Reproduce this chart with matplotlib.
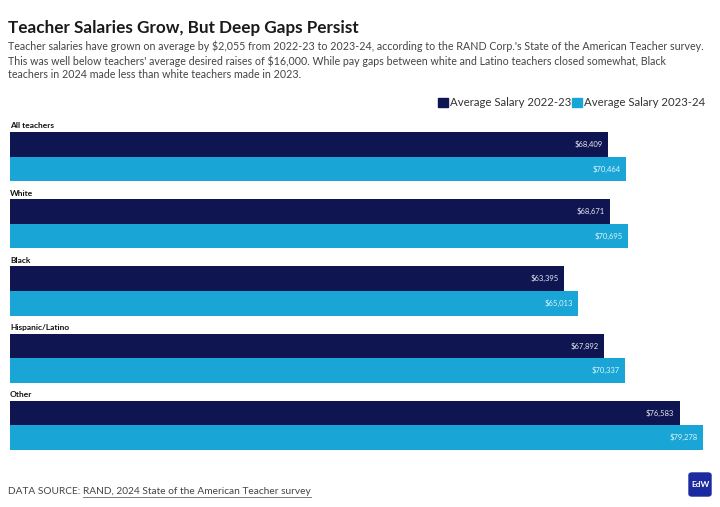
import matplotlib
matplotlib.use("Agg")
import matplotlib.pyplot as plt
from matplotlib.patches import FancyBboxPatch

plt.rcParams['font.family'] = ['Lato', 'DejaVu Sans']

groups = ["All teachers", "White", "Black", "Hispanic/Latino", "Other"]
sal_2223 = [68409, 68671, 63395, 67892, 76583]
sal_2324 = [70464, 70695, 65013, 70337, 79278]
series_names = ["Average Salary 2022-23", "Average Salary 2023-24"]

navy = "#0e1550"
cyan = "#19a6d6"

W, H = 720, 507
fig = plt.figure(figsize=(W / 100, H / 100), dpi=100)

# plot area in pixel terms
left, right, top, bottom = 10, 709.4, 132, 450
ax = fig.add_axes([left / W, 1 - bottom / H, (right - left) / W, (bottom - top) / H])

h = 0.366
for i, (a, b) in enumerate(zip(sal_2223, sal_2324)):
    ax.barh(i - h / 2, a, height=h, color=navy, align="center")
    ax.barh(i + h / 2, b, height=h, color=cyan, align="center")
    ax.text(a - 600, i - h / 2, f"${a:,}", color="#e8e8f0", fontsize=5.5,
            ha="right", va="center")
    ax.text(b - 600, i + h / 2, f"${b:,}", color="#dff3fb", fontsize=5.5,
            ha="right", va="center")
    ax.text(0, i - h - 0.04, groups[i], fontsize=6, fontweight="bold",
            ha="left", va="bottom", color="#111111")

ax.set_xlim(0, 80000)
ax.set_ylim(4 + h, -h)
ax.axis("off")

# title and subtitle
fig.text(8 / W, 1 - 28 / H, "Teacher Salaries Grow, But Deep Gaps Persist",
         fontsize=12.3, fontweight="bold", color="#1a1a1a", va="center")
sub = ("Teacher salaries have grown on average by $2,055 from 2022-23 to 2023-24, according to the RAND Corp.'s State of the American Teacher survey.\n"
       "This was well below teachers' average desired raises of $16,000. While pay gaps between white and Latino teachers closed somewhat, Black\n"
       "teachers in 2024 made less than white teachers made in 2023.")
fig.text(8 / W, 1 - 41 / H, sub, fontsize=7.7, color="#444444", va="top",
         linespacing=1.27)

# legend, laid out right to left
fig.canvas.draw()
r = fig.canvas.get_renderer()
x = 705
for name, col in [(series_names[1], cyan), (series_names[0], navy)]:
    t = fig.text(x / W, 1 - 102.5 / H, name, fontsize=8.2, color="#333333",
                 ha="right", va="center")
    tb = t.get_window_extent(r)
    sx = tb.x0 - 12
    fig.patches.append(plt.Rectangle((sx / W, 1 - 107 / H), 10 / W, 9 / H,
                                     transform=fig.transFigure, color=col))
    x = sx - 1

# footer
t1 = fig.text(8 / W, 1 - 492 / H, "DATA SOURCE: ", fontsize=7.3, color="#444444",
              va="center")
bb = t1.get_window_extent(r)
t2 = fig.text(bb.x1 / W, 1 - 492 / H, "RAND, 2024 State of the American Teacher survey",
              fontsize=7.3, color="#444444", va="center")
bb2 = t2.get_window_extent(r)
fig.lines.append(plt.Line2D([bb2.x0 / W, bb2.x1 / W], [(bb2.y0 - 0.5) / H] * 2,
                            transform=fig.transFigure, color="#666666", lw=0.6))

# logo
fig.patches.append(FancyBboxPatch((689 / W, 1 - 496 / H), 22 / W, 23 / H,
                                  boxstyle="round,pad=0,rounding_size=0.004",
                                  transform=fig.transFigure, color="#1b2a9e"))
fig.text(700 / W, 1 - 484.5 / H, "EdW", fontsize=6, color="white",
         ha="center", va="center", fontweight="bold")

fig.savefig("out.png", dpi=100)
